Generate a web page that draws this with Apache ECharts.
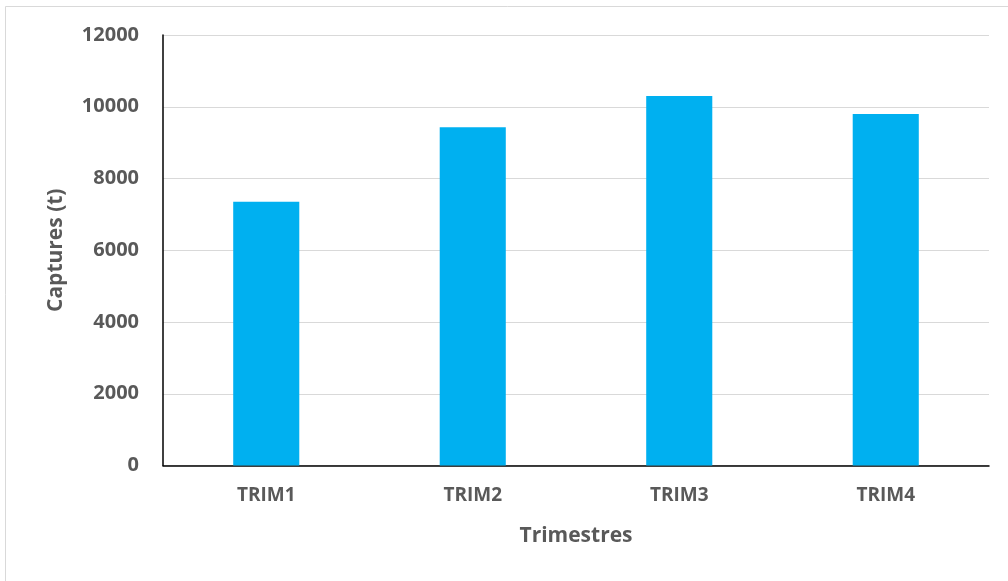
<!DOCTYPE html>
<html>
<head>
<meta charset="utf-8">
<script src="https://cdn.jsdelivr.net/npm/echarts@6/dist/echarts.min.js"></script>
<style>
html,body{margin:0;padding:0;background:#fff;}
#chart{width:1008px;height:581px;}
</style>
</head>
<body>
<div id="chart"></div>
<script>
const categories = ['TRIM1', 'TRIM2', 'TRIM3', 'TRIM4'];
const captures = [7350, 9430, 10300, 9800];
const yTicks = [0, 2000, 4000, 6000, 8000, 10000, 12000];
const xAxisTitle = 'Trimestres';
const yAxisTitle = 'Captures (t)';

const chart = echarts.init(document.getElementById('chart'));
const FONT = '"Open Sans", sans-serif';
const TXT = '#595959';
chart.setOption({
  animation: false,
  backgroundColor: '#fff',
  graphic: [{
    type: 'rect',
    shape: { x: 5.5, y: 6.5, width: 1100, height: 700 },
    style: { fill: 'none', stroke: '#d9d9d9', lineWidth: 1 },
    silent: true
  }],
  grid: { left: 163, right: 19, top: 35, bottom: 115.5 },
  xAxis: {
    type: 'category',
    data: categories,
    name: xAxisTitle,
    nameLocation: 'middle',
    nameGap: 60,
    nameTextStyle: { color: TXT, fontFamily: FONT, fontWeight: 'bold', fontSize: 21 },
    axisLine: { lineStyle: { color: '#000', width: 1.5 } },
    axisTick: { show: false },
    axisLabel: { color: TXT, fontFamily: FONT, fontWeight: 'bold', fontSize: 19, margin: 21 }
  },
  yAxis: {
    type: 'value',
    min: yTicks[0],
    max: yTicks[yTicks.length - 1],
    interval: 2000,
    name: yAxisTitle,
    nameLocation: 'middle',
    nameGap: 96,
    nameTextStyle: { color: TXT, fontFamily: FONT, fontWeight: 'bold', fontSize: 21 },
    axisLine: { show: true, lineStyle: { color: '#000', width: 1.5 } },
    axisTick: { show: false },
    splitLine: { lineStyle: { color: '#d9d9d9', width: 1 } },
    axisLabel: { color: TXT, fontFamily: FONT, fontWeight: 'bold', fontSize: 20, margin: 24, formatter: v => String(v) }
  },
  series: [{
    type: 'bar',
    data: captures,
    barWidth: '32%',
    itemStyle: { color: '#00B0F0' }
  }]
});
</script>
</body>
</html>
